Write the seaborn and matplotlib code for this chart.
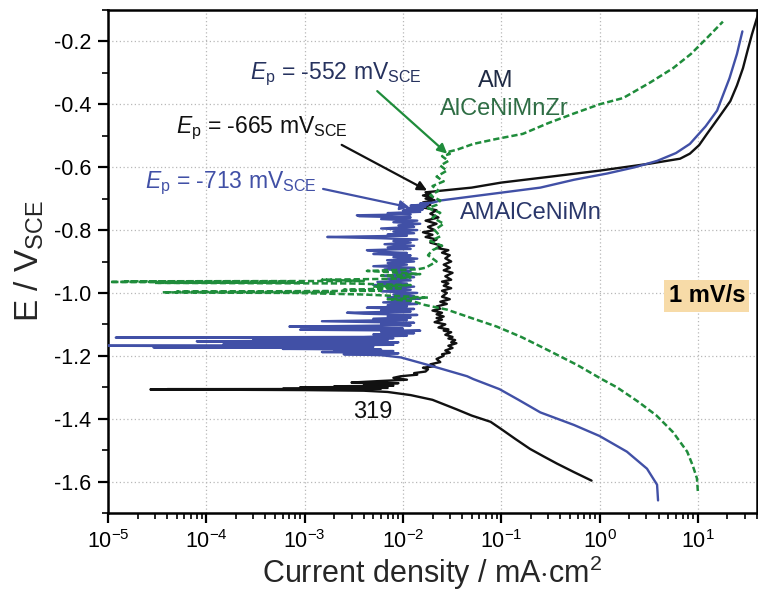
import numpy as np
import pandas as pd
import matplotlib
matplotlib.use("Agg")
import matplotlib.pyplot as plt
import matplotlib.ticker as mticker
import seaborn as sns

# ---------------- data ----------------
# 319 alloy (black): potential E (V_SCE) and current density i (mA/cm2)
black_E = [-1.597, -1.57, -1.543, -1.52, -1.496, -1.465, -1.433, -1.41, -1.39, -1.37,
           -1.34, -1.325, -1.315, -1.311, -1.309, -1.308, -1.307,
           -1.3065, -1.306, -1.3055, -1.305, -1.304, -1.303, -1.302, -1.30, -1.299, -1.297,
           -1.295, -1.293, -1.29, -1.287, -1.285, -1.28, -1.276, -1.27, -1.265, -1.26,
           -1.255, -1.25, -1.243, -1.238, -1.233, -1.227, -1.22, -1.21, -1.20,
           -1.195, -1.19, -1.183, -1.175, -1.168, -1.16, -1.157, -1.15, -1.145, -1.14,
           -1.133, -1.125, -1.12, -1.116, -1.11, -1.10, -1.093, -1.085, -1.08, -1.075,
           -1.068, -1.063, -1.056, -1.05, -1.043, -1.035, -1.028, -1.02, -1.012, -1.0,
           -0.993, -0.985, -0.977, -0.97, -0.964, -0.958, -0.947, -0.936, -0.928, -0.92,
           -0.91, -0.9, -0.89, -0.88, -0.872, -0.864, -0.857, -0.85, -0.84, -0.83,
           -0.822, -0.815, -0.807, -0.80, -0.79, -0.78, -0.77, -0.76, -0.748, -0.737,
           -0.728, -0.72, -0.712, -0.705, -0.7, -0.696, -0.69, -0.685, -0.68, -0.675,
           -0.665, -0.649, -0.63, -0.611, -0.589, -0.573, -0.557, -0.53, -0.494, -0.44,
           -0.39, -0.34, -0.285, -0.23, -0.178, -0.127, -0.105]
black_i = [0.83, 0.55, 0.37, 0.27, 0.196, 0.14, 0.1, 0.078, 0.05, 0.035,
           0.02, 0.012, 0.007, 0.004, 0.001, 0.0002, 2.7e-5,
           0.002, 4e-5, 0.004, 0.0006, 0.006, 0.0015, 0.007, 0.0009, 0.006, 0.002,
           0.008, 0.004, 0.0043, 0.009, 0.003, 0.006, 0.011, 0.008, 0.0095, 0.014,
           0.013, 0.017, 0.018, 0.016, 0.021, 0.019, 0.024, 0.022, 0.026,
           0.025, 0.03, 0.027, 0.032, 0.029, 0.035, 0.031, 0.034, 0.029, 0.032,
           0.027, 0.031, 0.026, 0.029, 0.023, 0.027, 0.021, 0.025, 0.022, 0.026,
           0.022, 0.025, 0.02, 0.024, 0.022, 0.028, 0.024, 0.03, 0.025, 0.028,
           0.025, 0.031, 0.026, 0.029, 0.025, 0.031, 0.027, 0.032, 0.026, 0.03,
           0.026, 0.031, 0.027, 0.03, 0.025, 0.029, 0.022, 0.025, 0.019, 0.022,
           0.017, 0.02, 0.016, 0.021, 0.018, 0.022, 0.017, 0.023, 0.019, 0.022,
           0.016, 0.019, 0.016, 0.021, 0.017, 0.02, 0.016, 0.019, 0.017, 0.024,
           0.05, 0.1, 0.32, 1.0, 3.2, 6.6, 8.3, 10.3, 12.4, 16.5,
           21.4, 25, 28.8, 32, 35.5, 39.8, 42]

# AM AlCeNiMn (blue)
blue_E = [-1.66, -1.61, -1.559, -1.505, -1.455, -1.42, -1.38, -1.34, -1.306, -1.274,
          -1.265, -1.233, -1.205,
          -1.198, -1.195, -1.192, -1.19, -1.188, -1.185, -1.183, -1.18, -1.178, -1.175,
          -1.173, -1.171, -1.168, -1.166, -1.165, -1.162, -1.16, -1.157, -1.154, -1.152,
          -1.15, -1.148, -1.147, -1.144, -1.142, -1.14,
          -1.136, -1.132, -1.128, -1.124, -1.12, -1.117, -1.113, -1.11, -1.107, -1.103,
          -1.099, -1.095, -1.09, -1.086, -1.082, -1.078, -1.074, -1.07, -1.066, -1.063,
          -1.059, -1.055, -1.051, -1.047, -1.043, -1.039, -1.035, -1.03, -1.026, -1.022,
          -1.018, -1.014, -1.01, -1.005, -1.0, -0.995, -0.99, -0.985, -0.98, -0.975,
          -0.97, -0.965, -0.96, -0.955, -0.95, -0.945, -0.94, -0.935, -0.93, -0.925,
          -0.92, -0.915, -0.91, -0.905, -0.9, -0.896, -0.891, -0.886, -0.881, -0.876,
          -0.873, -0.869, -0.864, -0.86, -0.855, -0.85, -0.845, -0.84, -0.835, -0.83,
          -0.826, -0.822, -0.818, -0.814, -0.81, -0.805, -0.8, -0.795, -0.79, -0.785,
          -0.78, -0.775, -0.77, -0.765, -0.76, -0.756, -0.753, -0.75, -0.746, -0.742,
          -0.738, -0.734, -0.73, -0.726, -0.722, -0.718, -0.715, -0.713,
          -0.706, -0.685, -0.665, -0.64, -0.62, -0.60, -0.58, -0.555, -0.526, -0.47,
          -0.42, -0.317, -0.24, -0.168]
blue_i = [3.94, 3.85, 3.04, 1.9, 1.0, 0.55, 0.25, 0.15, 0.096, 0.052,
          0.045, 0.02, 0.0095,
          0.006, 0.0025, 0.009, 0.004, 0.0015, 0.008, 0.002, 0.006, 0.0006, 0.004,
          2.9e-5, 0.005, 1e-5, 0.003, 0.008, 1.5e-4, 0.006, 0.009, 8e-5, 0.002,
          0.007, 5e-4, 0.0003, 0.008, 1.2e-5, 0.004,
          0.011, 0.005, 0.013, 0.006, 0.015, 0.0009, 0.01, 0.004, 0.0007, 0.012,
          0.006, 0.013, 0.0015, 0.011, 0.005, 0.012, 0.007, 0.014, 0.004, 0.0027,
          0.012, 0.006, 0.013, 0.0043, 0.011, 0.007, 0.014, 0.0063, 0.012, 0.008,
          0.015, 0.007, 0.013, 0.008, 0.014, 0.006, 0.012, 0.007, 0.013, 0.005,
          0.011, 0.0055, 0.012, 0.007, 0.013, 0.006, 0.014, 0.008, 0.012, 0.0065,
          0.013, 0.005, 0.011, 0.007, 0.013, 0.0069, 0.014, 0.008, 0.012, 0.005,
          0.011, 0.006, 0.0043, 0.012, 0.007, 0.013, 0.0065, 0.012, 0.008, 0.014,
          0.006, 0.0017, 0.011, 0.007, 0.013, 0.008, 0.014, 0.006, 0.013, 0.009,
          0.015, 0.008, 0.014, 0.006, 0.012, 0.0036, 0.0034, 0.012, 0.007, 0.015,
          0.01, 0.016, 0.011, 0.017, 0.012, 0.018, 0.015, 0.02,
          0.024, 0.08, 0.25, 0.55, 1.2, 2.3, 3.85, 6.0, 8.3, 12,
          15.7, 21, 25, 28.4]

# AM AlCeNiMnZr (green)
green_E = [-1.63, -1.59, -1.55, -1.505, -1.443, -1.39, -1.347, -1.30, -1.274, -1.23,
           -1.18, -1.14, -1.107, -1.08, -1.053, -1.037, -1.03,
           -1.025, -1.02, -1.015, -1.01, -1.005, -1.002, -1.0, -0.999, -0.998, -0.997,
           -0.996, -0.995, -0.993, -0.99, -0.985, -0.98, -0.975, -0.97, -0.968, -0.967,
           -0.966, -0.965, -0.964, -0.963, -0.962, -0.958, -0.955, -0.95, -0.945, -0.94,
           -0.937, -0.93, -0.925,
           -0.92, -0.9, -0.88, -0.864, -0.85, -0.835, -0.82, -0.80, -0.78, -0.76,
           -0.745, -0.73, -0.72, -0.706, -0.69, -0.675, -0.66, -0.645, -0.63, -0.611,
           -0.595, -0.58, -0.565, -0.558, -0.552,
           -0.545, -0.526, -0.51, -0.494, -0.46, -0.43, -0.40, -0.38, -0.33, -0.285,
           -0.24, -0.19, -0.137]
green_i = [10.0, 9.8, 8.9, 7.8, 5.6, 3.8, 2.5, 1.5, 1.05, 0.6,
           0.29, 0.16, 0.09, 0.05, 0.028, 0.016, 0.0138,
           0.012, 0.007, 0.018, 0.009, 0.004, 0.0015, 0.0008, 1e-4, 3.6e-5, 0.002,
           5e-5, 0.0003, 0.006, 0.0025, 0.01, 0.005, 0.012, 0.003, 3e-5, 0.001,
           0.0002, 1.05e-5, 0.0008, 1.5e-5, 0.004, 0.0015, 0.008, 0.012, 0.006, 0.015,
           0.011, 0.0043, 0.014,
           0.017, 0.022, 0.018, 0.02, 0.025, 0.019, 0.024, 0.021, 0.026, 0.02,
           0.024, 0.018, 0.022, 0.024, 0.019, 0.023, 0.02, 0.026, 0.022, 0.028,
           0.024, 0.029, 0.025, 0.03, 0.028,
           0.035, 0.052, 0.09, 0.166, 0.3, 0.54, 1.0, 1.74, 3.3, 5.6,
           8.5, 12.3, 18]

x_tick_values = [1e-5, 1e-4, 1e-3, 1e-2, 1e-1, 1e0, 1e1]
y_tick_values = [-1.6, -1.4, -1.2, -1.0, -0.8, -0.6, -0.4, -0.2]

# ---------------- style ----------------
sns.set_style("ticks")
plt.rcParams["font.family"] = ["Liberation Sans", "DejaVu Sans"]
plt.rcParams["mathtext.fontset"] = "custom"
plt.rcParams["mathtext.rm"] = "Liberation Sans"
plt.rcParams["mathtext.it"] = "Liberation Sans:italic"
plt.rcParams["mathtext.bf"] = "Liberation Sans:bold"
plt.rcParams["axes.unicode_minus"] = False

C_BLACK = "#111111"
C_BLUE = "#4150a6"
C_GREEN = "#1f8c3b"
C_NAVY = "#26325e"
C_DKGREEN = "#2e6d44"

fig = plt.figure(figsize=(7.58, 5.92), dpi=100)
ax = fig.add_axes([108 / 758, 1 - 513 / 592, 649 / 758, 503 / 592])
ax.set_xscale("log")
ax.set_axisbelow(True)

df_black = pd.DataFrame({"i": black_i, "E": black_E})
df_blue = pd.DataFrame({"i": blue_i, "E": blue_E})
df_green = pd.DataFrame({"i": green_i, "E": green_E})

sns.lineplot(data=df_black, x="i", y="E", sort=False, estimator=None,
             color=C_BLACK, lw=1.7, ax=ax, zorder=3)
sns.lineplot(data=df_blue, x="i", y="E", sort=False, estimator=None,
             color=C_BLUE, lw=1.7, ax=ax, zorder=4)
sns.lineplot(data=df_green, x="i", y="E", sort=False, estimator=None,
             color=C_GREEN, lw=1.8, linestyle=(0, (2.5, 1.2)), ax=ax, zorder=5)

ax.set_xlim(1e-5, 40)
ax.set_ylim(-1.7, -0.1)
ax.set_xticks(x_tick_values)
ax.xaxis.set_minor_locator(mticker.LogLocator(base=10, subs=np.arange(2, 10), numticks=50))
ax.xaxis.set_minor_formatter(mticker.NullFormatter())
ax.set_yticks(y_tick_values)
ax.yaxis.set_minor_locator(mticker.MultipleLocator(0.1))
ax.yaxis.set_major_formatter(mticker.FormatStrFormatter("%.1f"))

ax.grid(True, which="major", ls=(0, (1, 2)), color="#b8b8b8", lw=0.9)
for s in ax.spines.values():
    s.set_linewidth(1.8)
    s.set_color("black")
ax.tick_params(which="major", direction="out", length=7, width=1.6,
               labelsize=15.5, colors="black", pad=5)
ax.tick_params(which="minor", direction="out", length=4, width=1.2, colors="black")

ax.set_xlabel(r"Current density / mA$\cdot$cm$^2$", fontsize=22, labelpad=1)
ax.set_ylabel(r"E / V$_\mathrm{SCE}$", fontsize=24, labelpad=6)

# ---------------- annotations ----------------
fs_ann = 16.5
ax.annotate(r"$E_\mathrm{p}$ = -552 mV$_\mathrm{SCE}$", xy=(0.0282, -0.557), xytext=(2.78e-4, -0.304),
            fontsize=fs_ann, color=C_NAVY, ha="left", va="center",
            arrowprops=dict(arrowstyle="-|>", color=C_GREEN, lw=1.6, mutation_scale=14,
                            shrinkA=0, shrinkB=0, relpos=(0.72, 0.0)))
ax.annotate(r"$E_\mathrm{p}$ = -665 mV$_\mathrm{SCE}$", xy=(0.0176, -0.674), xytext=(4.9e-5, -0.475),
            fontsize=fs_ann, color=C_BLACK, ha="left", va="center",
            arrowprops=dict(arrowstyle="-|>", color=C_BLACK, lw=1.6, mutation_scale=14,
                            shrinkA=0, shrinkB=0, relpos=(0.93, 0.0)))
ax.annotate(r"$E_\mathrm{p}$ = -713 mV$_\mathrm{SCE}$", xy=(0.0117, -0.728), xytext=(2.4e-5, -0.652),
            fontsize=fs_ann, color=C_BLUE, ha="left", va="center",
            arrowprops=dict(arrowstyle="-|>", color=C_BLUE, lw=1.6, mutation_scale=14,
                            shrinkA=2, shrinkB=0, relpos=(1.0, 0.35)))

ax.text(0.0885, -0.326, "AM", fontsize=17, color="#1f2a44", ha="center", va="center")
ax.text(0.107, -0.415, "AlCeNiMnZr", fontsize=17, color=C_DKGREEN, ha="center", va="center")
ax.text(0.038, -0.747, "AMAlCeNiMn", fontsize=17, color="#2a376a", ha="left", va="center")
ax.text(0.00497, -1.379, "319", fontsize=17, color=C_BLACK, ha="center", va="center")
ax.text(12.4, -1.009, "1 mV/s", fontsize=17, fontweight="bold", color="black",
        ha="center", va="center",
        bbox=dict(boxstyle="square,pad=0.18", fc="#f7dba8", ec="none"))

fig.savefig("out.png", dpi=100)
